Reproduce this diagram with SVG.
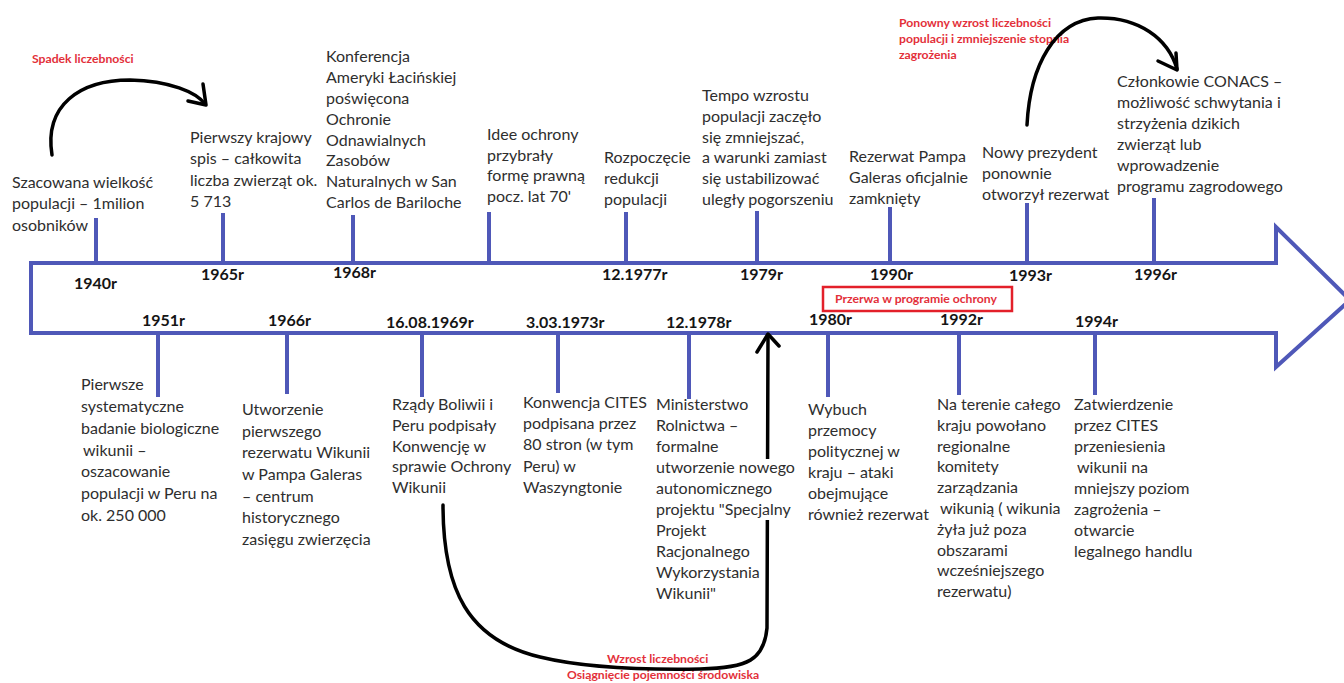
<svg xmlns="http://www.w3.org/2000/svg" width="1344" height="683" viewBox="0 0 1344 683">
<style>
.t{font-family:Lato,"Liberation Sans",sans-serif;font-size:16px;fill:#2e2e2e}
.y{font-family:Lato,"Liberation Sans",sans-serif;font-size:16px;font-weight:bold;fill:#151515}
.r{font-family:Lato,"Liberation Sans",sans-serif;font-size:12.2px;font-weight:bold;fill:#e3303a}
.tl{fill:none;stroke:#4f58b8;stroke-width:4;stroke-linejoin:miter}
.tk{stroke:#4f58b8;stroke-width:4}
.arc{fill:none;stroke:#000;stroke-width:3.5;stroke-linecap:round;stroke-linejoin:round}
.bg{fill:#fff}
</style>
<rect width="1344" height="683" fill="#fff"/>
<g id="timeline">
<path class="tl" d="M1276,263 H31 V333 H1276 V367 L1350,300 L1276,227 Z"/>
</g>
<g id="label-spadek">
<text class="r" x="32" y="63">Spadek liczebności</text>
</g>
<g id="label-ponowny">
<text class="r" x="899" y="27">Ponowny wzrost liczebności</text>
<text class="r" x="899" y="43">populacji i zmniejszenie stopnia</text>
<text class="r" x="899" y="59">zagrożenia</text>
</g>
<g id="label-wzrost">
<text class="r" x="607" y="663">Wzrost liczebności</text>
<text class="r" x="567" y="679">Osiągnięcie pojemności środowiska</text>
</g>
<g id="connectors">
<path class="arc" d="M52,155 C44,105 80,80 130,80 C170,81 196,92 205,104"/>
<path class="arc" d="M188,101 L206,105 L203,84"/>
<path class="arc" d="M1027,125 C1030,65 1055,20 1098,18 C1138,17 1168,38 1177,69"/>
<path class="arc" d="M1158,61 L1177,70 L1176,53"/>
<path class="arc" d="M443,505 C443,590 468,640 540,657 C585,668 640,670 700,669 C748,668 764,660 767,628 L768,336"/>
<path class="arc" d="M757,352 L768,334 L779,346"/>
</g>
<g id="e1940">
<line class="tk" x1="96" y1="218" x2="96" y2="263"/>
<text class="t" x="12" y="188">Szacowana wielkość</text>
<text class="t" x="12" y="209">populacji – 1milion</text>
<text class="t" x="12" y="231">osobników</text>
<text class="y" x="74" y="289">1940r</text>
</g>
<g id="e1965">
<line class="tk" x1="223" y1="213" x2="223" y2="263"/>
<text class="t" x="190" y="143">Pierwszy krajowy</text>
<text class="t" x="190" y="164">spis – całkowita</text>
<text class="t" x="190" y="186">liczba zwierząt ok.</text>
<text class="t" x="190" y="207">5 713</text>
<text class="y" x="201" y="280">1965r</text>
</g>
<g id="e1968">
<line class="tk" x1="353" y1="215" x2="353" y2="263"/>
<text class="t" x="326" y="62">Konferencja</text>
<text class="t" x="326" y="83">Ameryki Łacińskiej</text>
<text class="t" x="326" y="104">poświęcona</text>
<text class="t" x="326" y="125">Ochronie</text>
<text class="t" x="326" y="146">Odnawialnych</text>
<text class="t" x="326" y="166">Zasobów</text>
<text class="t" x="326" y="187">Naturalnych w San</text>
<text class="t" x="326" y="208">Carlos de Bariloche</text>
<text class="y" x="333" y="278">1968r</text>
</g>
<g id="e70s">
<line class="tk" x1="489" y1="212" x2="489" y2="263"/>
<text class="t" x="487" y="140">Idee ochrony</text>
<text class="t" x="487" y="161">przybrały</text>
<text class="t" x="487" y="181">formę prawną</text>
<text class="t" x="487" y="202">pocz. lat 70'</text>
</g>
<g id="e1977">
<line class="tk" x1="626" y1="212" x2="626" y2="263"/>
<text class="t" x="604" y="163">Rozpoczęcie</text>
<text class="t" x="604" y="184">redukcji</text>
<text class="t" x="604" y="205">populacji</text>
<text class="y" x="602" y="280">12.1977r</text>
</g>
<g id="e1979">
<line class="tk" x1="757" y1="211" x2="757" y2="263"/>
<text class="t" x="702" y="101">Tempo wzrostu</text>
<text class="t" x="702" y="122">populacji zaczęło</text>
<text class="t" x="702" y="143">się zmniejszać,</text>
<text class="t" x="702" y="163">a warunki  zamiast</text>
<text class="t" x="702" y="184">się ustabilizować</text>
<text class="t" x="702" y="205">uległy pogorszeniu</text>
<text class="y" x="740" y="280">1979r</text>
</g>
<g id="e1990">
<line class="tk" x1="890" y1="207" x2="890" y2="263"/>
<text class="t" x="849" y="162">Rezerwat Pampa</text>
<text class="t" x="849" y="183">Galeras oficjalnie</text>
<text class="t" x="849" y="204">zamknięty</text>
<text class="y" x="870" y="280">1990r</text>
</g>
<g id="e1993">
<line class="tk" x1="1027" y1="203" x2="1027" y2="263"/>
<text class="t" x="982" y="158">Nowy prezydent</text>
<text class="t" x="982" y="179">ponownie</text>
<text class="t" x="982" y="200">otworzył rezerwat</text>
<text class="y" x="1009" y="281">1993r</text>
</g>
<g id="e1996">
<line class="tk" x1="1154" y1="198" x2="1154" y2="263"/>
<text class="t" x="1117" y="87">Członkowie CONACS –</text>
<text class="t" x="1117" y="108">możliwość schwytania i</text>
<text class="t" x="1117" y="129">strzyżenia dzikich</text>
<text class="t" x="1117" y="150">zwierząt lub</text>
<text class="t" x="1117" y="171">wprowadzenie</text>
<text class="t" x="1117" y="192">programu zagrodowego</text>
<text class="y" x="1134" y="280">1996r</text>
</g>
<g id="e1951">
<line class="tk" x1="158" y1="333" x2="158" y2="397"/>
<text class="y" x="142" y="326">1951r</text>
<text class="t" x="81" y="390">Pierwsze</text>
<text class="t" x="81" y="412">systematyczne</text>
<text class="t" x="81" y="434">badanie biologiczne</text>
<text class="t" x="83" y="456">wikunii –</text>
<text class="t" x="81" y="477">oszacowanie</text>
<text class="t" x="81" y="499">populacji w Peru na</text>
<text class="t" x="81" y="521">ok. 250 000</text>
</g>
<g id="e1966">
<line class="tk" x1="287" y1="333" x2="287" y2="394"/>
<text class="y" x="268" y="326">1966r</text>
<text class="t" x="242" y="415">Utworzenie</text>
<text class="t" x="242" y="437">pierwszego</text>
<text class="t" x="242" y="458">rezerwatu Wikunii</text>
<text class="t" x="242" y="480">w Pampa Galeras</text>
<text class="t" x="242" y="502">– centrum</text>
<text class="t" x="242" y="523">historycznego</text>
<text class="t" x="242" y="545">zasięgu zwierzęcia</text>
</g>
<g id="e1969">
<line class="tk" x1="422" y1="333" x2="422" y2="397"/>
<text class="y" x="386" y="328">16.08.1969r</text>
<text class="t" x="392" y="410">Rządy Boliwii i</text>
<text class="t" x="392" y="431">Peru podpisały</text>
<text class="t" x="392" y="452">Konwencję w</text>
<text class="t" x="392" y="472">sprawie Ochrony</text>
<text class="t" x="392" y="493">Wikunii</text>
</g>
<g id="e1973">
<line class="tk" x1="558" y1="333" x2="558" y2="393"/>
<text class="y" x="526" y="328">3.03.1973r</text>
<text class="t" x="523" y="408">Konwencja CITES</text>
<text class="t" x="523" y="429">podpisana przez</text>
<text class="t" x="523" y="450">80 stron (w tym</text>
<text class="t" x="523" y="472">Peru) w</text>
<text class="t" x="523" y="493">Waszyngtonie</text>
</g>
<g id="e1978">
<line class="tk" x1="689" y1="333" x2="689" y2="399"/>
<text class="y" x="666" y="328">12.1978r</text>
<rect class="bg" x="654" y="459" width="146" height="61"/>
<text class="t" x="656" y="410">Ministerstwo</text>
<text class="t" x="656" y="431">Rolnictwa –</text>
<text class="t" x="656" y="452">formalne</text>
<text class="t" x="656" y="473">utworzenie nowego</text>
<text class="t" x="656" y="494">autonomicznego</text>
<text class="t" x="656" y="515">projektu "Specjalny</text>
<text class="t" x="656" y="536">Projekt</text>
<text class="t" x="656" y="557">Racjonalnego</text>
<text class="t" x="656" y="578">Wykorzystania</text>
<text class="t" x="656" y="599">Wikunii"</text>
</g>
<g id="e1980">
<line class="tk" x1="828" y1="333" x2="828" y2="397"/>
<text class="y" x="809" y="325">1980r</text>
<text class="t" x="808" y="415">Wybuch</text>
<text class="t" x="808" y="436">przemocy</text>
<text class="t" x="808" y="457">politycznej w</text>
<text class="t" x="808" y="478">kraju – ataki</text>
<text class="t" x="808" y="499">obejmujące</text>
<text class="t" x="808" y="520">również rezerwat</text>
</g>
<g id="e1992">
<line class="tk" x1="959" y1="333" x2="959" y2="395"/>
<text class="y" x="940" y="325">1992r</text>
<text class="t" x="937" y="410">Na terenie całego</text>
<text class="t" x="937" y="431">kraju powołano</text>
<text class="t" x="937" y="452">regionalne</text>
<text class="t" x="937" y="472">komitety</text>
<text class="t" x="937" y="493">zarządzania</text>
<text class="t" x="940" y="514">wikunią ( wikunia</text>
<text class="t" x="937" y="535">żyła już poza</text>
<text class="t" x="937" y="556">obszarami</text>
<text class="t" x="937" y="576">wcześniejszego</text>
<text class="t" x="937" y="597">rezerwatu)</text>
</g>
<g id="e1994">
<line class="tk" x1="1095" y1="333" x2="1095" y2="395"/>
<text class="y" x="1075" y="327">1994r</text>
<text class="t" x="1074" y="410">Zatwierdzenie</text>
<text class="t" x="1074" y="431">przez CITES</text>
<text class="t" x="1074" y="452">przeniesienia</text>
<text class="t" x="1077" y="473">wikunii na</text>
<text class="t" x="1074" y="494">mniejszy poziom</text>
<text class="t" x="1074" y="515">zagrożenia –</text>
<text class="t" x="1074" y="536">otwarcie</text>
<text class="t" x="1074" y="557">legalnego handlu</text>
</g>
<g id="label-przerwa">
<rect x="823" y="287" width="189" height="24" fill="#fff" stroke="#e3202a" stroke-width="2.5"/>
<text class="r" x="835" y="303">Przerwa w programie ochrony</text>
</g>
</svg>
